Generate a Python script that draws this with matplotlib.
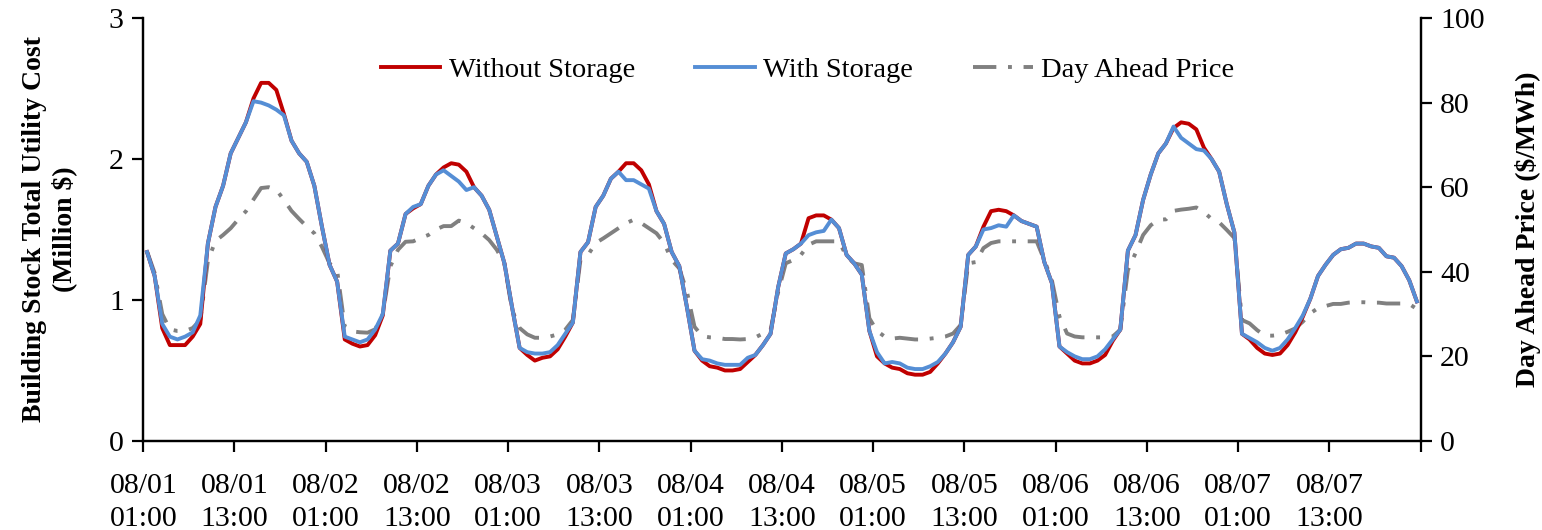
import numpy as np
import matplotlib
matplotlib.use("Agg")
import matplotlib.pyplot as plt

# hourly values, 08/01 01:00 .. 08/07 24:00 (168 hours)
without_storage = [
    1.34, 1.17, 0.80, 0.68, 0.68, 0.68, 0.74, 0.83, 1.40, 1.66, 1.81, 2.04,
    2.15, 2.26, 2.43, 2.54, 2.54, 2.49, 2.32, 2.13, 2.04, 1.98, 1.81, 1.52,
    1.25, 1.13, 0.72, 0.69, 0.67, 0.68, 0.75, 0.89, 1.35, 1.40, 1.61, 1.65,
    1.68, 1.81, 1.89, 1.94, 1.97, 1.96, 1.91, 1.80, 1.74, 1.64, 1.45, 1.26,
    0.95, 0.66, 0.61, 0.57, 0.59, 0.60, 0.65, 0.74, 0.84, 1.34, 1.41, 1.66,
    1.74, 1.86, 1.91, 1.97, 1.97, 1.92, 1.82, 1.63, 1.54, 1.34, 1.24, 0.95,
    0.64, 0.57, 0.53, 0.52, 0.50, 0.50, 0.51, 0.56, 0.61, 0.68, 0.76, 1.09,
    1.33, 1.36, 1.40, 1.58, 1.60, 1.60, 1.57, 1.51, 1.32, 1.26, 1.18, 0.78,
    0.60, 0.55, 0.52, 0.51, 0.48, 0.47, 0.47, 0.49, 0.55, 0.62, 0.70, 0.81,
    1.32, 1.38, 1.52, 1.63, 1.64, 1.63, 1.60, 1.56, 1.54, 1.52, 1.27, 1.12,
    0.67, 0.62, 0.57, 0.55, 0.55, 0.57, 0.61, 0.71, 0.79, 1.35, 1.46, 1.71,
    1.89, 2.04, 2.11, 2.22, 2.26, 2.25, 2.21, 2.08, 2.00, 1.91, 1.68, 1.48,
    0.76, 0.72, 0.66, 0.62, 0.61, 0.62, 0.68, 0.77, 0.88, 1.01, 1.17, 1.25,
    1.32, 1.36, 1.37, 1.40, 1.40, 1.38, 1.37, 1.31, 1.30, 1.24, 1.14, 0.99,
]

with_storage = [
    1.34, 1.17, 0.83, 0.74, 0.72, 0.74, 0.77, 0.89, 1.40, 1.66, 1.81, 2.04,
    2.15, 2.26, 2.41, 2.40, 2.38, 2.35, 2.31, 2.13, 2.04, 1.98, 1.81, 1.52,
    1.25, 1.13, 0.74, 0.72, 0.70, 0.72, 0.79, 0.90, 1.35, 1.40, 1.61, 1.66,
    1.68, 1.81, 1.89, 1.92, 1.88, 1.84, 1.78, 1.80, 1.74, 1.64, 1.45, 1.26,
    0.95, 0.66, 0.63, 0.62, 0.62, 0.63, 0.68, 0.76, 0.84, 1.34, 1.41, 1.66,
    1.74, 1.86, 1.91, 1.85, 1.85, 1.82, 1.79, 1.63, 1.54, 1.34, 1.24, 0.95,
    0.64, 0.58, 0.57, 0.55, 0.54, 0.54, 0.54, 0.59, 0.61, 0.68, 0.76, 1.09,
    1.33, 1.36, 1.40, 1.46, 1.48, 1.49, 1.57, 1.51, 1.32, 1.26, 1.18, 0.78,
    0.63, 0.55, 0.56, 0.55, 0.52, 0.51, 0.51, 0.53, 0.56, 0.62, 0.70, 0.81,
    1.32, 1.38, 1.50, 1.51, 1.53, 1.52, 1.60, 1.56, 1.54, 1.52, 1.27, 1.12,
    0.67, 0.63, 0.60, 0.58, 0.58, 0.60, 0.65, 0.72, 0.79, 1.35, 1.46, 1.71,
    1.89, 2.04, 2.11, 2.23, 2.15, 2.11, 2.07, 2.06, 2.00, 1.91, 1.68, 1.48,
    0.76, 0.73, 0.70, 0.66, 0.64, 0.66, 0.72, 0.80, 0.89, 1.01, 1.17, 1.25,
    1.32, 1.36, 1.37, 1.40, 1.40, 1.38, 1.37, 1.31, 1.30, 1.24, 1.14, 0.99,
]

day_ahead_price = [
    44.8, 39.7, 30.0, 26.4, 26.0, 26.0, 26.7, 28.6, 42.6, 47.3, 48.7, 50.3,
    52.4, 54.3, 57.1, 59.8, 60.0, 59.4, 57.0, 54.4, 52.5, 50.7, 49.1, 45.9,
    42.0, 40.3, 27.0, 25.9, 25.7, 25.6, 26.4, 30.0, 41.3, 45.2, 47.1, 47.2,
    48.0, 48.7, 50.0, 50.8, 50.8, 52.1, 51.5, 50.3, 49.1, 47.5, 45.2, 41.9,
    31.0, 26.7, 25.2, 24.4, 24.4, 24.7, 25.2, 26.3, 28.6, 42.8, 44.0, 46.8,
    47.9, 49.1, 50.3, 51.5, 52.3, 51.5, 50.3, 49.1, 46.8, 42.8, 40.8, 35.3,
    27.0, 24.8, 24.5, 24.4, 24.1, 24.1, 24.0, 24.1, 24.5, 25.4, 26.2, 35.2,
    42.0, 42.8, 44.0, 46.4, 47.2, 47.2, 47.2, 47.2, 43.6, 42.0, 41.6, 29.0,
    26.0, 24.7, 24.2, 24.4, 24.2, 24.0, 24.0, 24.2, 24.4, 24.7, 25.4, 27.4,
    42.0, 42.3, 45.6, 46.8, 47.2, 47.2, 47.2, 47.2, 47.2, 47.2, 42.8, 38.0,
    29.4, 25.4, 24.7, 24.5, 24.5, 24.5, 24.5, 24.7, 26.3, 40.4, 44.4, 48.7,
    51.0, 52.3, 52.4, 54.4, 54.7, 54.9, 55.2, 54.1, 52.5, 51.7, 49.9, 48.0,
    28.6, 27.8, 26.2, 24.9, 24.9, 25.1, 25.8, 26.6, 28.2, 30.2, 31.4, 31.9,
    32.4, 32.4, 32.7, 32.8, 32.8, 32.7, 32.7, 32.5, 32.5, 32.5, 32.4, 31.2,
]

tick_labels = ["08/01\n01:00", "08/01\n13:00", "08/02\n01:00", "08/02\n13:00",
               "08/03\n01:00", "08/03\n13:00", "08/04\n01:00", "08/04\n13:00",
               "08/05\n01:00", "08/05\n13:00", "08/06\n01:00", "08/06\n13:00",
               "08/07\n01:00", "08/07\n13:00", ""]

plt.rcParams['font.family'] = ['Liberation Serif', 'DejaVu Serif']

fig = plt.figure(figsize=(15.42, 5.30), dpi=100)
ax = fig.add_axes([0.0929, 0.168, 0.8284, 0.798])
ax2 = ax.twinx()
ax.set_zorder(ax2.get_zorder() + 1)
ax.patch.set_visible(False)

n = len(without_storage)
x = np.arange(n) + 0.5  # Excel-style: points between tick marks

ax.plot(x, without_storage, color='#C00000', lw=2.8, label='Without Storage')
ax.plot(x, with_storage, color='#558ED5', lw=2.8, label='With Storage')
price_line, = ax2.plot(x, day_ahead_price, color='#808080', lw=2.8,
                       linestyle=(0, (6, 3, 1, 3)), label='Day Ahead Price')

ax.set_xlim(0, n)
ax.set_ylim(0, 3)
ax2.set_ylim(0, 100)
ax.set_xticks(np.arange(0, n + 1, 12))
ax.set_xticklabels(tick_labels, linespacing=1.35)
ax.set_yticks([0, 1, 2, 3])
ax2.set_yticks(range(0, 101, 20))

for a in (ax, ax2):
    a.spines['top'].set_visible(False)
    for s in a.spines.values():
        s.set_linewidth(1.6)
    a.tick_params(direction='out', length=8, width=1.6, labelsize=21.5, pad=6)
ax.tick_params(axis='x', pad=15)

ax.set_ylabel("Building Stock Total Utility Cost\n(Million $)", fontsize=20,
              fontweight='bold', labelpad=23, linespacing=1.2)
ax2.set_ylabel("Day Ahead Price ($/MWh)", fontsize=20, fontweight='bold', labelpad=22)

handles = ax.get_lines() + [price_line]
ax.legend(handles, [h.get_label() for h in handles], loc='center',
          bbox_to_anchor=(0.52, 0.877), ncol=3, frameon=False, fontsize=20.5,
          handlelength=2.1, handletextpad=0.3, columnspacing=2.1)

fig.savefig("out.png", dpi=100)
